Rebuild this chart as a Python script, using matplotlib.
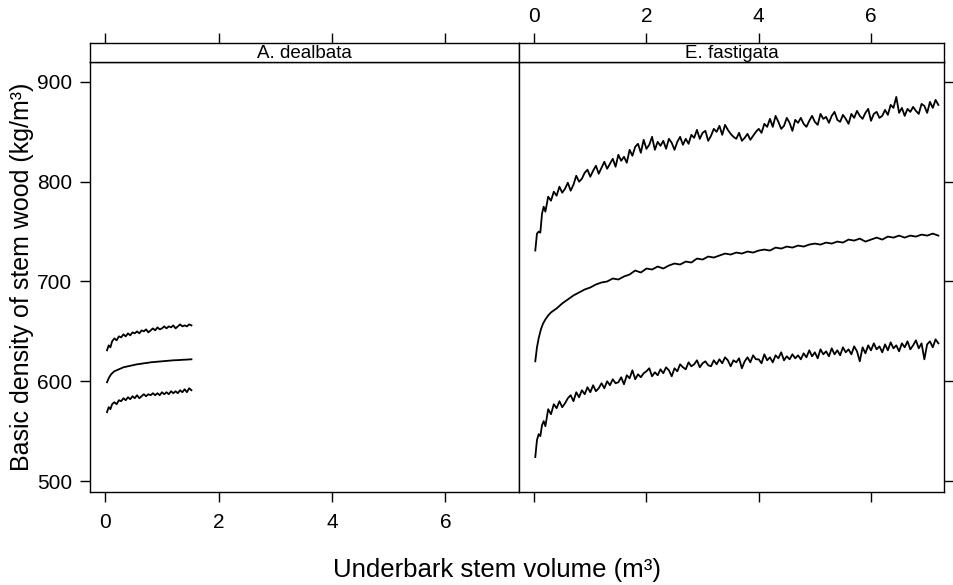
import matplotlib
matplotlib.use("Agg")
import matplotlib.pyplot as plt

plt.rcParams['font.family'] = ['Liberation Sans', 'DejaVu Sans']

panels = ["A. dealbata", "E. fastigata"]
x_ticks = [0, 2, 4, 6]
y_ticks = [500, 600, 700, 800, 900]

# A. dealbata (volume, density)
ad_x = [0.03, 0.06, 0.09, 0.12,
        0.16, 0.20, 0.24, 0.28, 0.32, 0.36, 0.40, 0.44, 0.48, 0.52,
        0.56, 0.60, 0.64, 0.68, 0.72, 0.76, 0.80, 0.84, 0.88, 0.92,
        0.96, 1.00, 1.04, 1.08, 1.12, 1.16, 1.20, 1.24, 1.28, 1.32,
        1.36, 1.40, 1.44, 1.48, 1.52]
ad_hi = [631, 636, 634, 640,
         643, 641, 645, 644, 647, 645, 648, 646, 649, 648,
         650, 648, 651, 650, 652, 649, 651, 653, 651, 654,
         652, 653, 655, 653, 655, 654, 656, 653, 655, 657,
         655, 656, 655, 657, 656]
ad_mid = [599, 603, 606, 608,
          610, 611, 612, 613, 614, 614.5, 615, 615.5, 616, 616.5,
          617, 617.3, 617.6, 618, 618.3, 618.6, 619, 619.2, 619.4, 619.6,
          619.8, 620, 620.2, 620.4, 620.6, 620.8, 621, 621.1, 621.2, 621.3,
          621.5, 621.6, 621.7, 621.9, 622]
ad_lo = [569, 574, 572, 577,
         579, 577, 581, 580, 583, 581, 584, 582, 585, 583,
         586, 583, 585, 587, 585, 587, 586, 588, 586, 588,
         586, 589, 587, 589, 587, 590, 588, 590, 588, 591,
         589, 592, 589, 593, 591]

# E. fastigata, noisy upper and lower series
ef_x = [0.02, 0.05, 0.08, 0.11, 0.14, 0.17, 0.20,
        0.25, 0.30, 0.35, 0.40, 0.45, 0.50, 0.55, 0.60, 0.65, 0.70,
        0.75, 0.80, 0.85, 0.90, 0.95, 1.00, 1.05, 1.10, 1.15, 1.20,
        1.25, 1.30, 1.35, 1.40, 1.45, 1.50, 1.55, 1.60, 1.65, 1.70,
        1.75, 1.80, 1.85, 1.90, 1.95, 2.00, 2.05, 2.10, 2.15, 2.20,
        2.25, 2.30, 2.35, 2.40, 2.45, 2.50, 2.55, 2.60, 2.65, 2.70,
        2.75, 2.80, 2.85, 2.90, 2.95, 3.00, 3.05, 3.10, 3.15, 3.20,
        3.25, 3.30, 3.35, 3.40, 3.45, 3.50, 3.55, 3.60, 3.65, 3.70,
        3.75, 3.80, 3.85, 3.90, 3.95, 4.00, 4.05, 4.10, 4.15, 4.20,
        4.25, 4.30, 4.35, 4.40, 4.45, 4.50, 4.55, 4.60, 4.65, 4.70,
        4.75, 4.80, 4.85, 4.90, 4.95, 5.00, 5.05, 5.10, 5.15, 5.20,
        5.25, 5.30, 5.35, 5.40, 5.45, 5.50, 5.55, 5.60, 5.65, 5.70,
        5.75, 5.80, 5.85, 5.90, 5.95, 6.00, 6.05, 6.10, 6.15, 6.20,
        6.25, 6.30, 6.35, 6.40, 6.45, 6.50, 6.55, 6.60, 6.65, 6.70,
        6.75, 6.80, 6.85, 6.90, 6.95, 7.00, 7.05, 7.10, 7.15, 7.20]
ef_hi = [731, 748, 750, 749, 768, 775, 770,
         785, 781, 790, 786, 795, 789, 793, 799, 791, 797,
         806, 800, 803, 809, 812, 805, 811, 816, 808, 814,
         820, 813, 818, 823, 815, 827, 821, 825, 819, 832,
         826, 835, 838, 829, 842, 833, 837, 845, 832, 840,
         836, 841, 833, 843, 839, 832, 840, 845, 837, 843,
         838, 847, 844, 852, 843, 849, 851, 841, 846, 853,
         850, 856, 847, 857, 852, 848, 845, 843, 849, 841,
         844, 848, 842, 846, 850, 853, 849, 858, 855, 863,
         855, 866, 860, 853, 856, 864, 859, 851, 862, 859,
         864, 858, 855, 861, 866, 860, 857, 868, 863, 865,
         859, 866, 870, 862, 860, 867, 863, 858, 868, 864,
         871, 866, 863, 869, 873, 861, 868, 870, 864, 866,
         872, 867, 877, 874, 885, 869, 874, 866, 873, 870,
         875, 871, 868, 878, 876, 869, 880, 874, 882, 877]
ef_lo = [524, 541, 547, 545, 556, 560, 555,
         572, 567, 577, 573, 580, 574, 578, 583, 586, 580,
         589, 584, 591, 587, 594, 589, 596, 590, 593, 598,
         593, 600, 596, 602, 598, 599, 604, 597, 606, 603,
         611, 602, 607, 604, 608, 610, 613, 605, 609, 606,
         612, 608, 614, 611, 605, 613, 610, 617, 614, 612,
         619, 615, 617, 621, 614, 618, 620, 616, 615, 621,
         617, 622, 618, 624, 621, 615, 621, 619, 623, 613,
         620, 624, 619, 626, 622, 622, 618, 627, 621, 624,
         619, 626, 623, 629, 621, 625, 622, 627, 623, 626,
         622, 628, 624, 631, 625, 629, 623, 632, 627, 630,
         625, 633, 627, 631, 626, 634, 629, 632, 627, 635,
         630, 620, 634, 628, 636, 631, 638, 632, 635, 629,
         637, 631, 639, 633, 636, 630, 638, 634, 640, 632,
         636, 641, 633, 638, 622, 637, 640, 634, 642, 638]

# E. fastigata, smooth middle series
ef_mid_x = [0.02, 0.05, 0.08, 0.12, 0.16, 0.20, 0.25, 0.30,
            0.4, 0.5, 0.6, 0.7, 0.8, 0.9, 1.0, 1.1, 1.2, 1.3, 1.4, 1.5,
            1.6, 1.7, 1.8, 1.9, 2.0, 2.1, 2.2, 2.3, 2.4, 2.5,
            2.6, 2.7, 2.8, 2.9, 3.0, 3.1, 3.2, 3.3, 3.4, 3.5,
            3.6, 3.7, 3.8, 3.9, 4.0, 4.1, 4.2, 4.3, 4.4, 4.5,
            4.6, 4.7, 4.8, 4.9, 5.0, 5.1, 5.2, 5.3, 5.4, 5.5,
            5.6, 5.7, 5.8, 5.9, 6.0, 6.1, 6.2, 6.3, 6.4, 6.5,
            6.6, 6.7, 6.8, 6.9, 7.0, 7.1, 7.2]
ef_mid = [620, 634, 643, 652, 658, 662, 666, 669,
          673, 678, 682, 686, 689, 692, 694, 697, 699, 700, 703, 702,
          705, 707, 711, 709, 713, 712, 715, 713, 716, 718,
          717, 720, 719, 723, 722, 725, 724, 726, 728, 727,
          729, 728, 730, 729, 731, 732, 731, 734, 733, 735,
          734, 736, 735, 737, 738, 737, 739, 738, 740, 739,
          742, 741, 743, 740, 742, 744, 742, 745, 744, 746,
          744, 746, 745, 747, 746, 748, 746]

W, H = 954, 585
fig = plt.figure(figsize=(W / 100, H / 100), dpi=100)

def box(x0, y0, x1, y1):
    return [x0 / W, 1 - y1 / H, (x1 - x0) / W, (y1 - y0) / H]

xlim = (-0.27, 7.3)
ylim = (489, 920)
lw = 1.3
tick_kw = dict(length=7, width=1.0, labelsize=15, colors='black')

ax1 = fig.add_axes(box(90, 62, 519, 492))
ax2 = fig.add_axes(box(519, 62, 944, 492))
st1 = fig.add_axes(box(90, 43, 519, 62))
st2 = fig.add_axes(box(519, 43, 944, 62))

ax1.plot(ad_x, ad_hi, color='black', lw=lw)
ax1.plot(ad_x, ad_mid, color='black', lw=lw)
ax1.plot(ad_x, ad_lo, color='black', lw=lw)
ax2.plot(ef_x, ef_hi, color='black', lw=lw)
ax2.plot(ef_mid_x, ef_mid, color='black', lw=lw)
ax2.plot(ef_x, ef_lo, color='black', lw=lw)

for ax in (ax1, ax2, st1, st2):
    ax.set_xlim(*xlim)
    for s in ax.spines.values():
        s.set_linewidth(1.0)

for ax in (ax1, ax2):
    ax.set_ylim(*ylim)
    ax.set_xticks(x_ticks)
    ax.set_yticks(y_ticks)

ax1.tick_params(axis='x', direction='out', pad=8, **tick_kw)
ax1.tick_params(axis='y', direction='out', pad=6, left=True, right=False, **tick_kw)
ax2.tick_params(axis='x', direction='out', labelbottom=False, **tick_kw)
ax2.tick_params(axis='y', direction='out', left=False, right=True,
                labelleft=False, labelright=False, **tick_kw)

for st, name in zip((st1, st2), panels):
    st.set_ylim(0, 1)
    st.set_yticks([])
    st.set_xticks(x_ticks)
    st.text(0.5, 0.45, name, transform=st.transAxes, ha='center', va='center',
            fontsize=13.5)
st1.tick_params(axis='x', direction='out', bottom=False, top=True,
                labelbottom=False, labeltop=False, **tick_kw)
st2.tick_params(axis='x', direction='out', bottom=False, top=True,
                labelbottom=False, labeltop=True, pad=5, **tick_kw)

fig.text(497 / W, 1 - 570 / H, "Underbark stem volume (m³)", ha='center',
         va='center', fontsize=18.5)
fig.text(22 / W, 1 - 277 / H, "Basic density of stem wood (kg/m³)", ha='center',
         va='center', rotation=90, fontsize=18)

fig.savefig("out.png", dpi=100)
